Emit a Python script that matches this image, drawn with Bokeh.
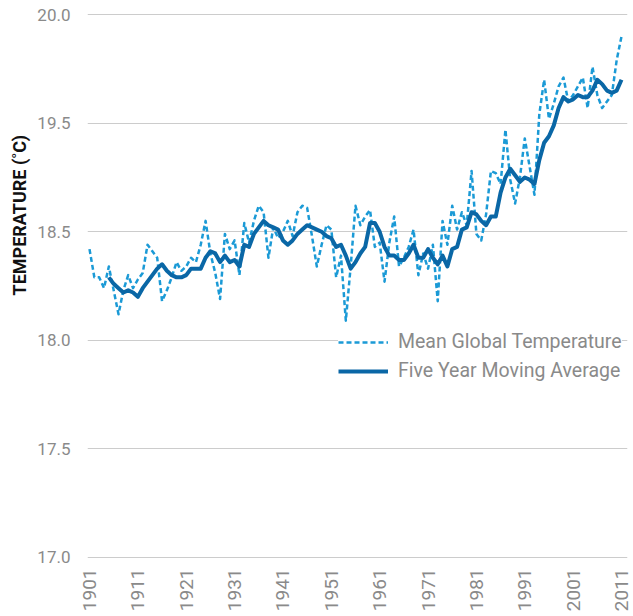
import math
from bokeh.plotting import figure
from bokeh.models import Range1d, Title
from bokeh.embed import file_html
from bokeh.resources import INLINE

# ---- data ----
years = list(range(1901, 2012))
mean_temp = [
    18.42, 18.29, 18.29, 18.24, 18.34, 18.23, 18.12, 18.23, 18.30, 18.24,  # 1901-1910
    18.28, 18.31, 18.44, 18.41, 18.38, 18.18, 18.23, 18.29, 18.36, 18.32,  # 1911-1920
    18.34, 18.38, 18.36, 18.44, 18.55, 18.40, 18.31, 18.19, 18.49, 18.42,  # 1921-1930
    18.46, 18.30, 18.54, 18.45, 18.55, 18.62, 18.59, 18.38, 18.52, 18.47,  # 1931-1940
    18.50, 18.55, 18.48, 18.59, 18.62, 18.61, 18.48, 18.34, 18.44, 18.53,  # 1941-1950
    18.51, 18.29, 18.39, 18.09, 18.34, 18.62, 18.53, 18.57, 18.60, 18.43,  # 1951-1960
    18.45, 18.27, 18.45, 18.57, 18.34, 18.38, 18.43, 18.51, 18.30, 18.40,  # 1961-1970
    18.33, 18.44, 18.18, 18.55, 18.44, 18.62, 18.51, 18.59, 18.53, 18.78,  # 1971-1980
    18.49, 18.46, 18.58, 18.78, 18.77, 18.72, 18.97, 18.74, 18.63, 18.75,  # 1981-1990
    18.93, 18.80, 18.67, 19.04, 19.20, 19.02, 19.09, 19.17, 19.21, 19.10,  # 1991-2000
    19.13, 19.17, 19.21, 19.07, 19.26, 19.13, 19.07, 19.10, 19.13, 19.29,  # 2001-2010
    19.40,                                                                 # 2011
]
ma_years = list(range(1905, 2012))
moving_avg = [
    18.29, 18.26, 18.24, 18.22, 18.23, 18.22, 18.20, 18.24, 18.27, 18.30,  # 1905-1914
    18.33, 18.35, 18.32, 18.30, 18.29, 18.29, 18.30, 18.33, 18.33, 18.33,  # 1915-1924
    18.38, 18.41, 18.40, 18.36, 18.39, 18.36, 18.37, 18.34, 18.44, 18.43,  # 1925-1934
    18.49, 18.52, 18.55, 18.53, 18.52, 18.51, 18.46, 18.44, 18.46, 18.49,  # 1935-1944
    18.51, 18.53, 18.52, 18.51, 18.50, 18.48, 18.47, 18.43, 18.44, 18.39,  # 1945-1954
    18.33, 18.36, 18.40, 18.43, 18.54, 18.54, 18.50, 18.43, 18.39, 18.39,  # 1955-1964
    18.37, 18.37, 18.40, 18.44, 18.38, 18.38, 18.42, 18.38, 18.35, 18.39,  # 1965-1974
    18.34, 18.42, 18.43, 18.51, 18.52, 18.59, 18.58, 18.55, 18.53, 18.57,  # 1975-1984
    18.57, 18.68, 18.75, 18.79, 18.76, 18.73, 18.75, 18.74, 18.72, 18.83,  # 1985-1994
    18.91, 18.94, 18.99, 19.07, 19.12, 19.10, 19.11, 19.13, 19.12, 19.12,  # 1995-2004
    19.15, 19.20, 19.18, 19.15, 19.14, 19.15, 19.20,                       # 2005-2011
]
x_ticks = list(range(1901, 2012, 10))
y_ticks = [17.0, 17.5, 18.0, 18.5, 19.0, 19.5]
y_tick_labels = ["17.0", "17.5", "18.0", "18.5", "19.5", "20.0"]

series_names = ["Mean Global Temperature", "Five Year Moving Average"]
y_title = "TEMPERATURE (˚C)"

FONT = "Roboto"
GREY = "#8a8a8a"

p = figure(width=633, height=616, output_backend="svg", toolbar_location=None,
           x_range=Range1d(1900.5865, 2012.2406), y_range=Range1d(16.99, 19.51),
           min_border_left=87, min_border_right=6, min_border_top=12,
           min_border_bottom=57)
p.outline_line_color = None
p.background_fill_color = "white"
p.border_fill_color = "white"

p.xgrid.visible = False
p.ygrid.grid_line_color = "#cccccc"
p.ygrid.grid_line_width = 1

# y axis
p.yaxis.ticker = y_ticks
p.yaxis.major_label_overrides = {t: lab for t, lab in zip(y_ticks, y_tick_labels)}
p.yaxis.axis_line_color = None
p.yaxis.major_tick_line_color = None
p.yaxis.minor_tick_line_color = None
p.yaxis.major_tick_out = 0
p.yaxis.major_tick_in = 0
p.yaxis.major_label_standoff = 17
p.yaxis.major_label_text_font = FONT
p.yaxis.major_label_text_font_size = "17px"
p.yaxis.major_label_text_color = GREY

# x axis
p.xaxis.ticker = x_ticks
p.xaxis.axis_line_color = None
p.xaxis.major_tick_line_color = None
p.xaxis.minor_tick_line_color = None
p.xaxis.major_tick_out = 0
p.xaxis.major_tick_in = 0
p.xaxis.major_label_standoff = 9
p.xaxis.major_label_orientation = math.pi / 2
p.xaxis.major_label_text_font = FONT
p.xaxis.major_label_text_font_size = "19px"
p.xaxis.major_label_text_color = GREY

# series
p.line(years, mean_temp, line_color="#1b9ad6", line_width=2.5, line_dash="5 3",
       line_join="round", legend_label=series_names[0])
p.line(ma_years, moving_avg, line_color="#0a67a6", line_width=4,
       line_join="round", legend_label=series_names[1])

# y axis title (side-panel title, shifted up from the frame's bottom)
p.add_layout(Title(text=y_title, align="left", offset=264,
                   text_font=FONT, text_font_size="18px",
                   text_font_style="bold", text_color="#111111"), "left")

lg = p.legend[0]
lg.location = (251, 177)
lg.border_line_color = None
lg.background_fill_color = "white"
lg.background_fill_alpha = 1.0
lg.padding = 5
lg.margin = 0
lg.spacing = 6
lg.label_standoff = 10
lg.glyph_width = 50
lg.glyph_height = 22
lg.label_height = 22
lg.label_text_font = FONT
lg.label_text_font_size = "19.5px"
lg.label_text_color = GREY

open("out.html", "w").write(file_html(p, INLINE))
